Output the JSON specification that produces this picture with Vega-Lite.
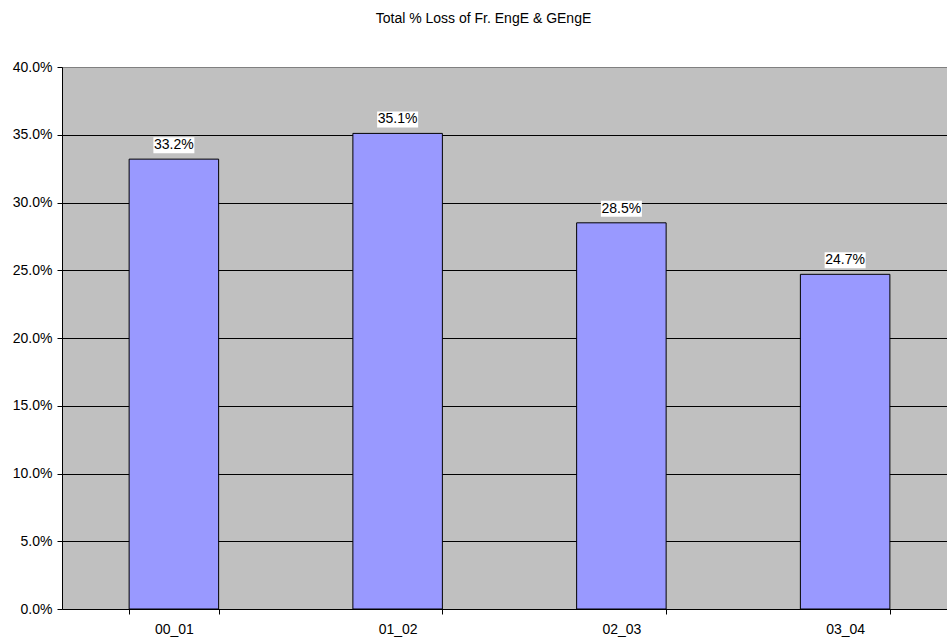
{
  "$schema": "https://vega.github.io/schema/vega-lite/v6.json",
  "width": 885,
  "height": 542,
  "autosize": {"type": "none"},
  "padding": {"left": 62, "top": 67, "right": 0, "bottom": 29},
  "background": "white",
  "title": {
    "text": "Total % Loss of Fr. EngE & GEngE",
    "font": "Liberation Sans",
    "fontSize": 14,
    "fontWeight": "normal",
    "color": "black",
    "anchor": "middle",
    "baseline": "alphabetic",
    "offset": 23,
    "dx": -21
  },
  "data": {
    "values": [
      {"period": "00_01", "loss": 0.332},
      {"period": "01_02", "loss": 0.351},
      {"period": "02_03", "loss": 0.285},
      {"period": "03_04", "loss": 0.247}
    ]
  },
  "encoding": {
    "x": {
      "field": "period",
      "type": "nominal",
      "sort": null,
      "scale": {"range": [0, 895], "paddingInner": 0.6, "paddingOuter": 0.3},
      "axis": {
        "title": null,
        "tickBand": "extent",
        "labelAngle": 0,
        "grid": false,
        "domainColor": "black",
        "tickColor": "black",
        "tickSize": 5,
        "labelPadding": 8,
        "labelFont": "Liberation Sans",
        "labelFontSize": 14,
        "labelColor": "black"
      }
    },
    "y": {
      "field": "loss",
      "type": "quantitative",
      "scale": {"domain": [0, 0.4], "nice": false},
      "axis": {
        "title": null,
        "values": [0, 0.05, 0.1, 0.15, 0.2, 0.25, 0.3, 0.35, 0.4],
        "format": ".1%",
        "grid": true,
        "gridColor": {"condition": {"test": "datum.value >= 0.4", "value": "#808080"}, "value": "black"},
        "gridWidth": 1,
        "gridOpacity": 1,
        "domainColor": "black",
        "tickColor": "black",
        "tickSize": 5,
        "labelPadding": 5,
        "labelFont": "Liberation Sans",
        "labelFontSize": 14,
        "labelColor": "black"
      }
    }
  },
  "layer": [
    {"mark": {"type": "bar", "fill": "#9999FF", "stroke": "black", "strokeWidth": 1}},
    {
      "mark": {
        "type": "point",
        "shape": "M-1,-0.39L1,-0.39L1,0.39L-1,0.39Z",
        "size": 1681,
        "filled": true,
        "color": "white",
        "fill": "white",
        "opacity": 1,
        "strokeWidth": 0,
        "yOffset": -14
      }
    },
    {
      "mark": {
        "type": "text",
        "yOffset": -14,
        "baseline": "middle",
        "font": "Liberation Sans",
        "fontSize": 14,
        "color": "black"
      },
      "encoding": {"text": {"field": "loss", "type": "quantitative", "format": ".1%"}}
    }
  ],
  "config": {
    "view": {"fill": "#C0C0C0", "stroke": null}
  }
}
